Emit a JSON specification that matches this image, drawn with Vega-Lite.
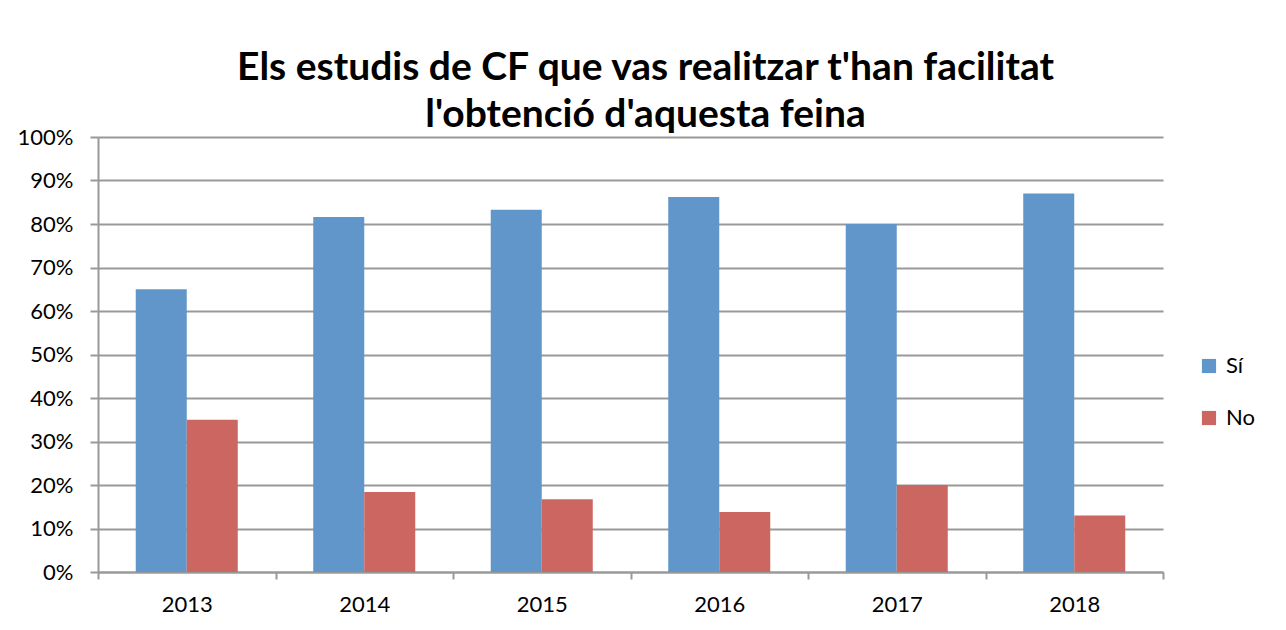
{
  "$schema": "https://vega.github.io/schema/vega-lite/v6.json",
  "width": 1065,
  "height": 435,
  "autosize": {"type": "none"},
  "padding": {"left": 98, "top": 137, "right": 123, "bottom": 58},
  "background": "white",
  "data": {
    "values": [
      {"year": "2013", "resposta": "Sí", "valor": 0.65},
      {"year": "2013", "resposta": "No", "valor": 0.35},
      {"year": "2014", "resposta": "Sí", "valor": 0.816},
      {"year": "2014", "resposta": "No", "valor": 0.184},
      {"year": "2015", "resposta": "Sí", "valor": 0.833},
      {"year": "2015", "resposta": "No", "valor": 0.167},
      {"year": "2016", "resposta": "Sí", "valor": 0.862},
      {"year": "2016", "resposta": "No", "valor": 0.138},
      {"year": "2017", "resposta": "Sí", "valor": 0.80},
      {"year": "2017", "resposta": "No", "valor": 0.20},
      {"year": "2018", "resposta": "Sí", "valor": 0.87},
      {"year": "2018", "resposta": "No", "valor": 0.13}
    ]
  },
  "title": {
    "text": ["Els estudis de CF que vas realitzar t'han facilitat", "l'obtenció d'aquesta feina"],
    "font": "Lato",
    "fontSize": 39,
    "fontWeight": "bold",
    "color": "#000000",
    "anchor": "middle",
    "frame": "group",
    "dx": 15,
    "offset": -9,
    "lineHeight": 47
  },
  "mark": {"type": "bar"},
  "encoding": {
    "x": {
      "field": "year",
      "type": "ordinal",
      "title": null,
      "scale": {"paddingInner": 0, "paddingOuter": 0},
      "axis": {
        "labelAngle": 0,
        "labelFont": "Lato",
        "labelFontSize": 22,
        "labelColor": "#000000",
        "labelPadding": 15,
        "tickBand": "extent",
        "tickSize": 7,
        "tickColor": "#999999",
        "tickWidth": 2,
        "domainColor": "#999999",
        "domainWidth": 2,
        "grid": false
      }
    },
    "xOffset": {
      "field": "resposta",
      "type": "nominal",
      "sort": ["Sí", "No"],
      "scale": {"paddingInner": 0, "paddingOuter": 0.74}
    },
    "y": {
      "field": "valor",
      "type": "quantitative",
      "title": null,
      "scale": {"domain": [0, 1], "nice": false},
      "axis": {
        "format": ".0%",
        "values": [0, 0.1, 0.2, 0.3, 0.4, 0.5, 0.6, 0.7, 0.8, 0.9, 1],
        "labelFont": "Lato",
        "labelFontSize": 22,
        "labelColor": "#000000",
        "labelPadding": 17,
        "tickSize": 8,
        "tickColor": "#999999",
        "tickWidth": 2,
        "domainColor": "#999999",
        "domainWidth": 2,
        "grid": true,
        "gridColor": "#999999",
        "gridWidth": 2
      }
    },
    "color": {
      "field": "resposta",
      "type": "nominal",
      "sort": ["Sí", "No"],
      "scale": {"domain": ["Sí", "No"], "range": ["#6096C9", "#CC6660"]},
      "legend": {
        "title": null,
        "orient": "none",
        "legendX": 1100,
        "legendY": 218,
        "symbolType": "square",
        "symbolSize": 200,
        "symbolStrokeWidth": 0,
        "labelFont": "Lato",
        "labelFontSize": 22,
        "labelColor": "#000000",
        "rowPadding": 30,
        "labelOffset": 6
      }
    }
  },
  "config": {
    "view": {"stroke": null}
  }
}
